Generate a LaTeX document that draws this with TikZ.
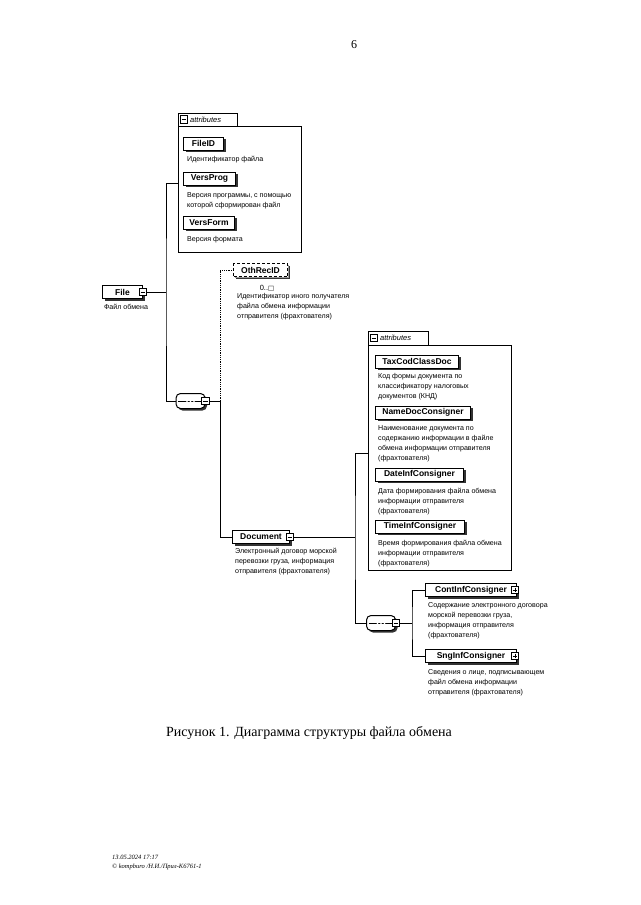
\documentclass[tikz,border=0pt]{standalone}
\usepackage{fontspec}
\setmainfont{Liberation Serif}
\newfontfamily\arial{Liberation Sans}
\newfontfamily\dejavu{DejaVu Sans}
\usetikzlibrary{positioning}
\usetikzlibrary{shadows}
\tikzset{shd/.style = {drop shadow={shadow xshift=2pt, shadow yshift=-2pt, fill=black!80, opacity=1}}}
\tikzset{elem/.style = {draw, line width=1pt, fill=white, shd, anchor=west, minimum height=13pt,
    inner xsep=3pt, inner ysep=0pt, font=\arial\fontsize{8.5}{10}\selectfont\bfseries}}
\tikzset{optel/.style = {elem, densely dashed, drop shadow={shadow xshift=1.6pt, shadow yshift=-1.6pt, fill=black!40, opacity=1}}}
\tikzset{desc/.style = {anchor=north west, align=left, inner sep=0pt, font=\arial\fontsize{7.1}{10}\selectfont}}
\tikzset{mbox/.style = {draw, line width=0.6pt, fill=white, minimum size=7.5pt, inner sep=0pt,
    path picture={\draw ([xshift=1.4pt]path picture bounding box.west) -- ([xshift=-1.4pt]path picture bounding box.east);}}}
\tikzset{pbox/.style = {draw, line width=0.6pt, fill=white, minimum size=7.5pt, inner sep=0pt,
    path picture={\draw ([xshift=1.4pt]path picture bounding box.west) -- ([xshift=-1.4pt]path picture bounding box.east);
      \draw ([yshift=-1.4pt]path picture bounding box.north) -- ([yshift=1.4pt]path picture bounding box.south);}}}
\tikzset{seq/.style = {rectangle, rounded corners=4.5pt, draw, line width=1pt, fill=white, shd,
    minimum width=29pt, minimum height=15pt, inner sep=0pt,
    path picture={\draw ([xshift=2pt]path picture bounding box.west) -- ([xshift=-2pt]path picture bounding box.east);
      \foreach \dx in {-3.5, 0, 3.5} {\fill ([xshift=\dx pt]path picture bounding box.center) circle (1.2pt);}}}}
\tikzset{attr/.style = {draw, line width=0.7pt, fill=white, anchor=north west, inner sep=0pt,
    drop shadow={shadow xshift=1pt, shadow yshift=-1pt, fill=black!80, opacity=1}}}
\tikzset{tabtxt/.style = {anchor=west, inner sep=0pt, font=\arial\itshape\fontsize{7.5}{8}\selectfont}}
\tikzset{conn/.style = {line width=0.8pt}}

\begin{document}
\begin{tikzpicture}[x=1pt, y=-1pt]
  \useasboundingbox (0,0) rectangle (640,905);
  \node [font=\fontsize{12}{14}\selectfont] (pnum) at (354,45) {6};

  % attributes of File
  \node [attr, minimum width=123pt, minimum height=126pt] (attr1) at (178,126) {};
  \draw [line width=0.7pt, fill=white] (178,113) rectangle (237,126);
  \node [mbox] (tab1m) at (184,119.5) {};
  \node [tabtxt] (tab1) at (190,119.5) {attributes};
  \coordinate (a1in) at (178,183);

  \node [elem, minimum width=40pt] (fileid) at (183,143.5) {FileID};
  \node [desc] at (187,156) {Идентификатор файла};
  \node [elem, minimum width=52pt] (versprog) at (183,178.5) {VersProg};
  \node [desc] at (187,192) {Версия программы, с помощью\\которой сформирован файл};
  \node [elem, minimum width=51pt] (versform) at (183,222.5) {VersForm};
  \node [desc] at (187,236) {Версия формата};

  % File
  \node [elem, minimum width=40pt] (file) at (102,292) {File};
  \node [mbox] (filem) at (file.east) {};
  \node [desc, anchor=north] at (126,304) {Файл обмена};
  \coordinate (fork1) at (166,292);

  \node [seq] (seq1) at (190.5,401) {};
  \node [mbox] (seq1m) at (seq1.east) {};
  \coordinate (fork2) at (220,401);

  \draw [conn] (filem.east) -- (fork1);
  \draw [conn] (a1in) -| (fork1) |- (seq1.west);
  \draw [conn] (seq1m.east) -- (fork2);

  % OthRecID
  \node [optel, minimum width=54pt] (oth) at (233,270) {OthRecID};
  \node [font=\arial\fontsize{7.5}{8}\selectfont, inner sep=0pt] (othn) at (267,288) {0..{\dejavu\fontsize{6.5}{7}\selectfont □}};
  \node [desc] at (237,293) {Идентификатор иного получателя\\файла обмена информации\\отправителя (фрахтователя)};
  \draw [conn, densely dotted] (fork2) |- (oth.west);

  % Document
  \node [elem, minimum width=57pt] (doc) at (232,537) {Document};
  \node [mbox] (docm) at (doc.east) {};
  \node [desc] at (235,548) {Электронный договор морской\\перевозки груза, информация\\отправителя (фрахтователя)};
  \draw [conn] (fork2) |- (doc.west);
  \coordinate (fork3) at (355,537);
  \draw [conn] (docm.east) -- (fork3);

  % attributes of Document
  \node [attr, minimum width=143pt, minimum height=225pt] (attr2) at (368,345) {};
  \draw [line width=0.7pt, fill=white] (368,331) rectangle (428,345);
  \node [mbox] (tab2m) at (374,338) {};
  \node [tabtxt] (tab2) at (380,338) {attributes};
  \coordinate (a2in) at (368,453);

  \node [elem, minimum width=83pt] (taxcod) at (375,361.5) {TaxCodClassDoc};
  \node [desc] at (378,373) {Код формы документа по\\классификатору налоговых\\документов (КНД)};
  \node [elem, minimum width=95pt] (namedoc) at (375,412.5) {NameDocConsigner};
  \node [desc] at (378,425) {Наименование документа по\\содержанию информации в файле\\обмена информации отправителя\\(фрахтователя)};
  \node [elem, minimum width=88pt] (dateinf) at (375,474.5) {DateInfConsigner};
  \node [desc] at (378,488) {Дата формирования файла обмена\\информации отправителя\\(фрахтователя)};
  \node [elem, minimum width=89pt] (timeinf) at (375,526.5) {TimeInfConsigner};
  \node [desc] at (378,540) {Время формирования файла обмена\\информации отправителя\\(фрахтователя)};

  \node [seq] (seq2) at (381,623) {};
  \node [mbox] (seq2m) at (seq2.east) {};
  \coordinate (fork4) at (412,623);
  \draw [conn] (a2in) -| (fork3) |- (seq2.west);
  \draw [conn] (seq2m.east) -- (fork4);

  % children of the sequence
  \node [elem, minimum width=91pt] (cont) at (425,590) {ContInfConsigner};
  \node [pbox] (contp) at ([xshift=-2pt]cont.east) {};
  \node [desc] at (428,602) {Содержание электронного договора\\морской перевозки груза,\\информация отправителя\\(фрахтователя)};
  \node [elem, minimum width=91pt] (sng) at (425,656) {SngInfConsigner};
  \node [pbox] (sngp) at ([xshift=-2pt]sng.east) {};
  \node [desc] at (428,669) {Сведения о лице, подписывающем\\файл обмена информации\\отправителя (фрахтователя)};
  \draw [conn] (cont.west) -| (fork4) |- (sng.west);

  \node [font=\fontsize{14}{16}\selectfont] (cap) at (309,733) {Рисунок 1. Диаграмма структуры файла обмена};
  \node [anchor=north west, align=left, inner sep=0pt, font=\itshape\fontsize{6.5}{9}\selectfont] (foot) at (112,855)
    {13.05.2024 17:17\\© kompburo /Н.И./Прил-К6761-1};
\end{tikzpicture}
\end{document}
